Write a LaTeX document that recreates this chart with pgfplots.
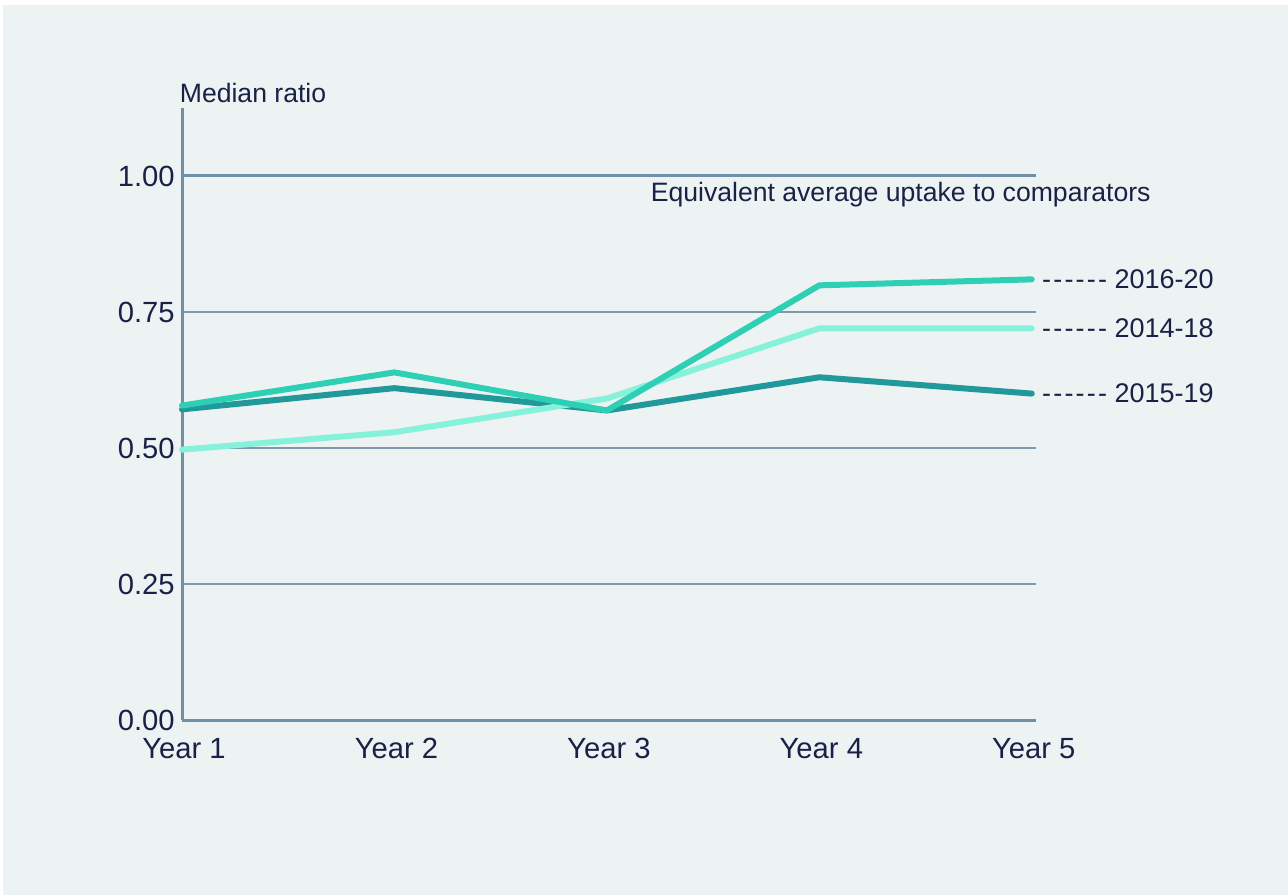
\documentclass[border=0pt]{standalone}
\usepackage{pgfplots}
\pgfplotsset{compat=1.18}
\usepackage{fontspec}
\setmainfont{Liberation Sans}
\definecolor{bgc}{HTML}{EDF3F2}
\definecolor{txt}{HTML}{1A2147}
\definecolor{gridc}{HTML}{7C98AC}
\definecolor{axc}{HTML}{7090A5}
\definecolor{cA}{HTML}{2DCFB5}
\definecolor{cB}{HTML}{86F2DC}
\definecolor{cC}{HTML}{21999A}
\newcommand{\dsh}{-\kern1.1pt-\kern1.1pt-\kern1.1pt-\kern1.1pt-\kern1.1pt-}
\begin{document}
\begin{tikzpicture}
\path[use as bounding box, fill=white] (-91pt,-87.5pt) rectangle (553pt,360pt);
\fill[bgc] (-89.5pt,-87.5pt) rectangle (553pt,357.5pt);
\begin{axis}[
  at={(0,0)}, anchor=origin,
  scale only axis, width=427pt, height=306pt,
  xmin=0, xmax=4.02, ymin=0, ymax=1.125,
  axis x line*=bottom, axis y line*=left,
  axis line style={axc, line width=1.5pt},
  x axis line style={-}, y axis line style={-},
  xtick={0,1,2,3,4},
  xticklabels={Year 1,Year 2,Year 3,Year 4,Year 5},
  ytick={0,0.25,0.5,0.75,1},
  yticklabels={0.00,0.25,0.50,0.75,1.00},
  major tick length=0pt,
  ymajorgrids, grid style={gridc, line width=0.9pt},
  tick label style={font=\fontsize{14.6}{16}\selectfont, text=txt},
  yticklabel style={inner sep=0pt, xshift=-3.5pt},
  xticklabel style={inner sep=0pt, yshift=-9pt, xshift=1pt},
  clip=false,
  every axis plot/.append style={line width=3pt, line cap=round, line join=round},
]
\draw[axc, line width=1.5pt] (axis cs:0,1) -- (axis cs:4.02,1);
\addplot[cC] coordinates {(0,0.571) (1,0.610) (2,0.569) (3,0.630) (4,0.600)};
\addplot[cB] coordinates {(0,0.497) (1,0.529) (2,0.591) (3,0.720) (4,0.720)};
\addplot[cA] coordinates {(0,0.578) (1,0.639) (2,0.569) (3,0.799) (4,0.810)};
\node[anchor=base west, inner sep=0pt, text=txt, font=\fontsize{13.3}{15}\selectfont] at (axis cs:-0.012,1.136) {Median ratio};
\node[anchor=base west, inner sep=0pt, text=txt, font=\fontsize{13.3}{15}\selectfont] at (axis cs:2.205,0.954) {Equivalent average uptake to comparators};
\node[anchor=west, inner sep=0pt, xshift=5pt, text=txt, font=\fontsize{13.5}{15}\selectfont] at (axis cs:4,0.810) {\dsh\ 2016-20};
\node[anchor=west, inner sep=0pt, xshift=5pt, text=txt, font=\fontsize{13.5}{15}\selectfont] at (axis cs:4,0.720) {\dsh\ 2014-18};
\node[anchor=west, inner sep=0pt, xshift=5pt, text=txt, font=\fontsize{13.5}{15}\selectfont] at (axis cs:4,0.600) {\dsh\ 2015-19};
\end{axis}
\end{tikzpicture}
\end{document}
